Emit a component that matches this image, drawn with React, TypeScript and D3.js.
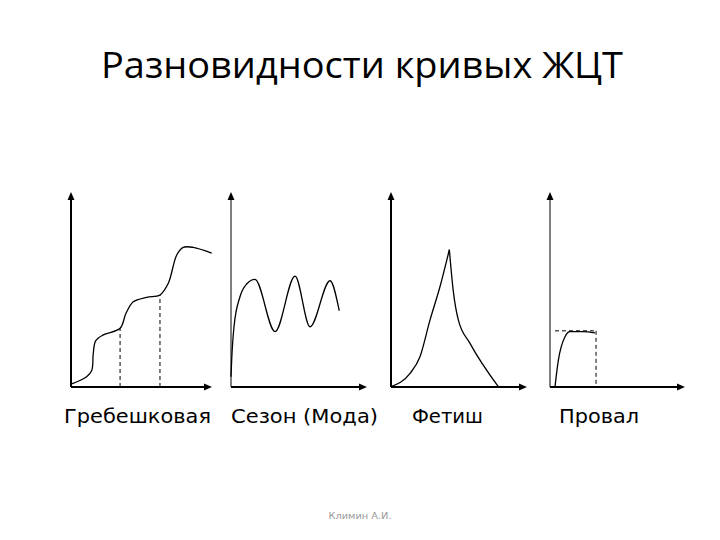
import React from "react";
import * as d3 from "d3";

type Pt = [number, number];

// подписи под графиками
const panelNames = ["Гребешковая", "Сезон (Мода)", "Фетиш", "Провал"];

// кривые ЖЦТ, условные единицы 0..100
const scallopCurve: Pt[] = [
  [0, 1.5], [11.1, 5.3], [14.7, 8.5], [15.8, 17.3], [17.5, 23.7], [22.9, 26.7],
  [34.8, 30.1], [39, 37.8], [44.2, 43.7], [53.7, 46], [63.1, 47.2], [69, 53.2],
  [75, 67.7], [79.6, 71.6], [86.7, 71.6], [99.8, 68.6],
];
const scallopDrops: Pt[] = [[34.8, 30.1], [63.1, 47.2]];

const fashionCurve: Pt[] = [
  [0, 5.3], [0.5, 13.8], [2.2, 30.9], [6.6, 46.3], [11.5, 52.8], [17.6, 55.2],
  [32.4, 28.4], [47.1, 56.9], [58.1, 30.9], [72.8, 54.5], [79.6, 39.1],
];

const fadRise: Pt[] = [[0, 0.2], [14, 7], [21.3, 15.5], [28.7, 34.4], [36, 51.4], [42.9, 70.4]];
const fadFall: Pt[] = [[42.9, 70.4], [45.8, 49.2], [49.5, 34.4], [58.1, 22.4], [78.9, 0.2]];

const flopCurve: Pt[] = [[3.7, 0.2], [6.2, 13.8], [11.1, 25.8], [14.8, 28.4], [24.7, 28.4], [33.3, 27.8]];
const flopLevel = 28.8;
const flopFrom = 3.7;
const flopTo = 34.1;

const panels = [
  { x0: 71, x1: 212, yAxisW: 2, label: 137.5, labelW: 147 },
  { x0: 231, x1: 367, yAxisW: 1, label: 304.5, labelW: 147 },
  { x0: 391, x1: 527, yAxisW: 2, label: 447.5, labelW: 71 },
  { x0: 550, x1: 685, yAxisW: 1, label: 599, labelW: 80 },
];

const W = 720;
const H = 540;
const yBottom = 387;
const yTop = 192;

export default function App() {
  const y = d3.scaleLinear().domain([0, 100]).range([yBottom, yTop]);
  const scales = panels.map((p) => d3.scaleLinear().domain([0, 100]).range([p.x0, p.x1]));

  const path = (sx: d3.ScaleLinear<number, number>, pts: Pt[], curve: d3.CurveFactory = d3.curveMonotoneX) =>
    d3.line<Pt>().x((d) => sx(d[0])).y((d) => y(d[1])).curve(curve)(pts) || "";

  const smooth = d3.curveCatmullRom.alpha(0.5);

  const curves: string[][] = [
    [path(scales[0], scallopCurve, smooth)],
    [path(scales[1], fashionCurve)],
    [path(scales[2], fadRise), path(scales[2], fadFall)],
    [path(scales[3], flopCurve)],
  ];

  const dash = "4,3";

  return (
    <svg width={W} height={H} style={{ position: "absolute", left: 0, top: 0, background: "#fff" }}>
      <text
        x={362}
        y={78}
        textAnchor="middle"
        fontFamily="'Open Sans', sans-serif"
        fontSize={36}
        textLength={522}
        lengthAdjust="spacingAndGlyphs"
        fill="#000"
      >
        Разновидности кривых ЖЦТ
      </text>

      {panels.map((p, i) => {
        const sx = scales[i];
        const ox = sx(0);
        const ex = sx(100);
        const oy = y(0);
        const ty = y(100);
        return (
          <g key={i}>
            <line x1={ox} y1={oy} x2={ox} y2={ty + 6} stroke="#000" strokeWidth={p.yAxisW} />
            <line x1={ox} y1={oy} x2={ex - 6} y2={oy} stroke="#000" strokeWidth={2} />
            <path d={`M${ox},${ty} L${ox - 3.5},${ty + 8} L${ox + 3.5},${ty + 8} Z`} fill="#000" />
            <path d={`M${ex},${oy} L${ex - 8},${oy - 3.5} L${ex - 8},${oy + 3.5} Z`} fill="#000" />
            {curves[i].map((d, j) => (
              <path key={j} d={d} fill="none" stroke="#000" strokeWidth={1.3} />
            ))}
            <text
              x={p.label}
              y={423}
              textAnchor="middle"
              fontFamily="'DejaVu Sans', sans-serif"
              fontSize={19}
              textLength={p.labelW}
              lengthAdjust="spacingAndGlyphs"
              fill="#000"
            >
              {panelNames[i]}
            </text>
          </g>
        );
      })}

      {scallopDrops.map((d, i) => (
        <line
          key={i}
          x1={scales[0](d[0])}
          x2={scales[0](d[0])}
          y1={y(0)}
          y2={y(d[1])}
          stroke="#000"
          strokeWidth={1}
          strokeDasharray={dash}
        />
      ))}

      <line
        x1={scales[3](flopFrom)}
        x2={scales[3](flopTo)}
        y1={y(flopLevel)}
        y2={y(flopLevel)}
        stroke="#000"
        strokeWidth={1}
        strokeDasharray={dash}
      />
      <line
        x1={scales[3](flopTo)}
        x2={scales[3](flopTo)}
        y1={y(flopLevel)}
        y2={y(0)}
        stroke="#000"
        strokeWidth={1}
        strokeDasharray={dash}
      />

      <text
        x={360}
        y={519}
        textAnchor="middle"
        fontFamily="'DejaVu Sans', sans-serif"
        fontSize={9}
        textLength={63}
        lengthAdjust="spacingAndGlyphs"
        fill="#999"
      >
        Климин А.И.
      </text>
    </svg>
  );
}
